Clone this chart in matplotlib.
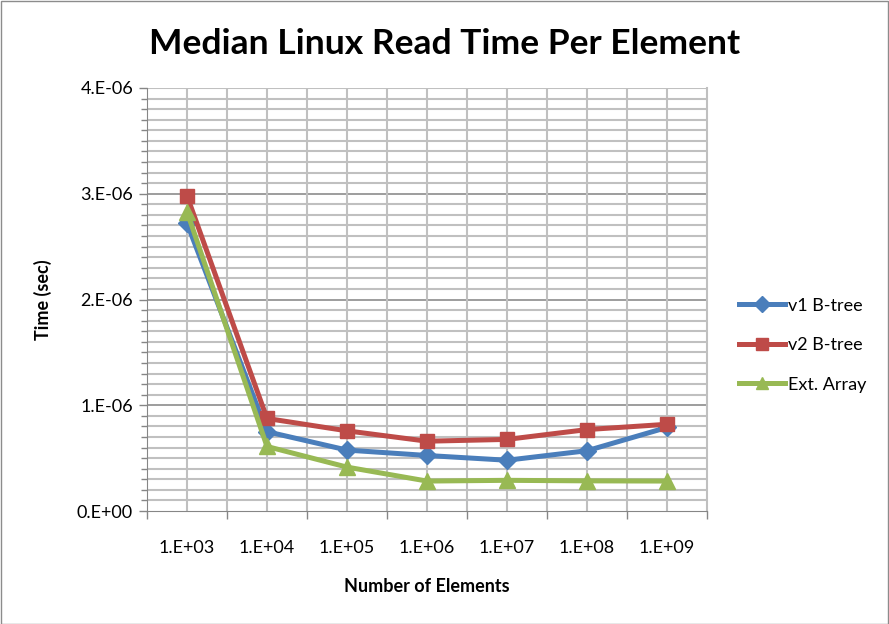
import matplotlib
matplotlib.use("Agg")
import matplotlib.pyplot as plt
from matplotlib.patches import Rectangle
from matplotlib.ticker import MultipleLocator, FixedLocator, FuncFormatter

categories = ["1.E+03", "1.E+04", "1.E+05", "1.E+06", "1.E+07", "1.E+08", "1.E+09"]
v1_btree = [2.72e-6, 0.75e-6, 0.576e-6, 0.525e-6, 0.48e-6, 0.57e-6, 0.79e-6]
v2_btree = [2.98e-6, 0.875e-6, 0.758e-6, 0.66e-6, 0.677e-6, 0.77e-6, 0.82e-6]
ext_array = [2.83e-6, 0.61e-6, 0.415e-6, 0.283e-6, 0.29e-6, 0.285e-6, 0.283e-6]
y_ticks = [0, 1e-6, 2e-6, 3e-6, 4e-6]
y_tick_labels = ["0.E+00", "1.E-06", "2.E-06", "3.E-06", "4.E-06"]

plt.rcParams['font.family'] = ['Lato', 'DejaVu Sans']

fig = plt.figure(figsize=(8.89, 6.24), dpi=100)
fig.patches.append(Rectangle((0.5/889, 0.5/624), 1 - 1.5/889, 1 - 1.5/624,
                             transform=fig.transFigure, fill=False,
                             edgecolor="#8c8c8c", linewidth=1.0))
ax = fig.add_axes([147/889, 1 - 511/624, 560/889, 423/624])

x = list(range(len(categories)))
ax.plot(x, v1_btree, color="#4A7EBB", lw=3.6, marker="D", ms=9, label="v1 B-tree", zorder=5)
ax.plot(x, v2_btree, color="#BE4B48", lw=3.6, marker="s", ms=10.5, label="v2 B-tree", zorder=5)
ax.plot(x, ext_array, color="#98B954", lw=3.6, marker="^", ms=11, label="Ext. Array", zorder=5)

ax.set_xlim(-0.5, len(categories) - 0.5)
ax.set_ylim(0, 4e-6)

# y axis
ax.yaxis.set_major_locator(FixedLocator(y_ticks))
ax.set_yticklabels(y_tick_labels)
ax.yaxis.set_minor_locator(MultipleLocator(1e-7))
# x axis: tick marks at boundaries, labels at centers
ax.xaxis.set_major_locator(FixedLocator([i - 0.5 for i in range(len(categories) + 1)]))
ax.set_xticklabels([""] * (len(categories) + 1))
ax.xaxis.set_minor_locator(FixedLocator(x))
ax.xaxis.set_minor_formatter(FuncFormatter(lambda v, p: categories[int(round(v))]))

ax.tick_params(axis="x", which="major", length=6, width=1, color="#868686", direction="out")
ax.tick_params(axis="x", which="minor", length=0, labelsize=13, pad=21)
ax.tick_params(axis="y", which="major", length=6, width=1, color="#868686", labelsize=13, pad=4)
ax.tick_params(axis="y", which="minor", length=4, width=1, color="#868686")

# gridlines
for yv in [i * 1e-7 for i in range(1, 40)]:
    if abs(yv / 1e-6 - round(yv / 1e-6)) < 1e-6:
        ax.axhline(yv, color="#8c8c8c", lw=1.2, zorder=1)
    else:
        ax.axhline(yv, color="#c0c0c0", lw=1.5, zorder=1)
for xv in [i * 0.5 - 0.5 for i in range(1, 2 * len(categories))]:
    ax.axvline(xv, color="#c0c0c0", lw=1.5, zorder=1)
ax.axhline(4e-6, color="#c0c0c0", lw=1.5, zorder=1)

ax.spines["top"].set_visible(False)
ax.spines["right"].set_color("#c0c0c0")
ax.spines["right"].set_linewidth(1.5)
ax.spines["left"].set_color("#868686")
ax.spines["bottom"].set_color("#868686")

ax.set_ylabel("Time (sec)", fontsize=13, fontweight="bold", labelpad=18)
ax.set_xlabel("Number of Elements", fontsize=13, fontweight="bold", labelpad=16)
fig.text(0.5, 1 - 44/624, "Median Linux Read Time Per Element", ha="center", va="center",
         fontsize=25.5, fontweight="bold")

leg = ax.legend(loc="center left", bbox_to_anchor=(1.028, 0.392), frameon=False,
                fontsize=13, handlelength=2.55, labelspacing=1.3, handletextpad=0.15,
                markerscale=0.85)

fig.savefig("out.png", dpi=100)
